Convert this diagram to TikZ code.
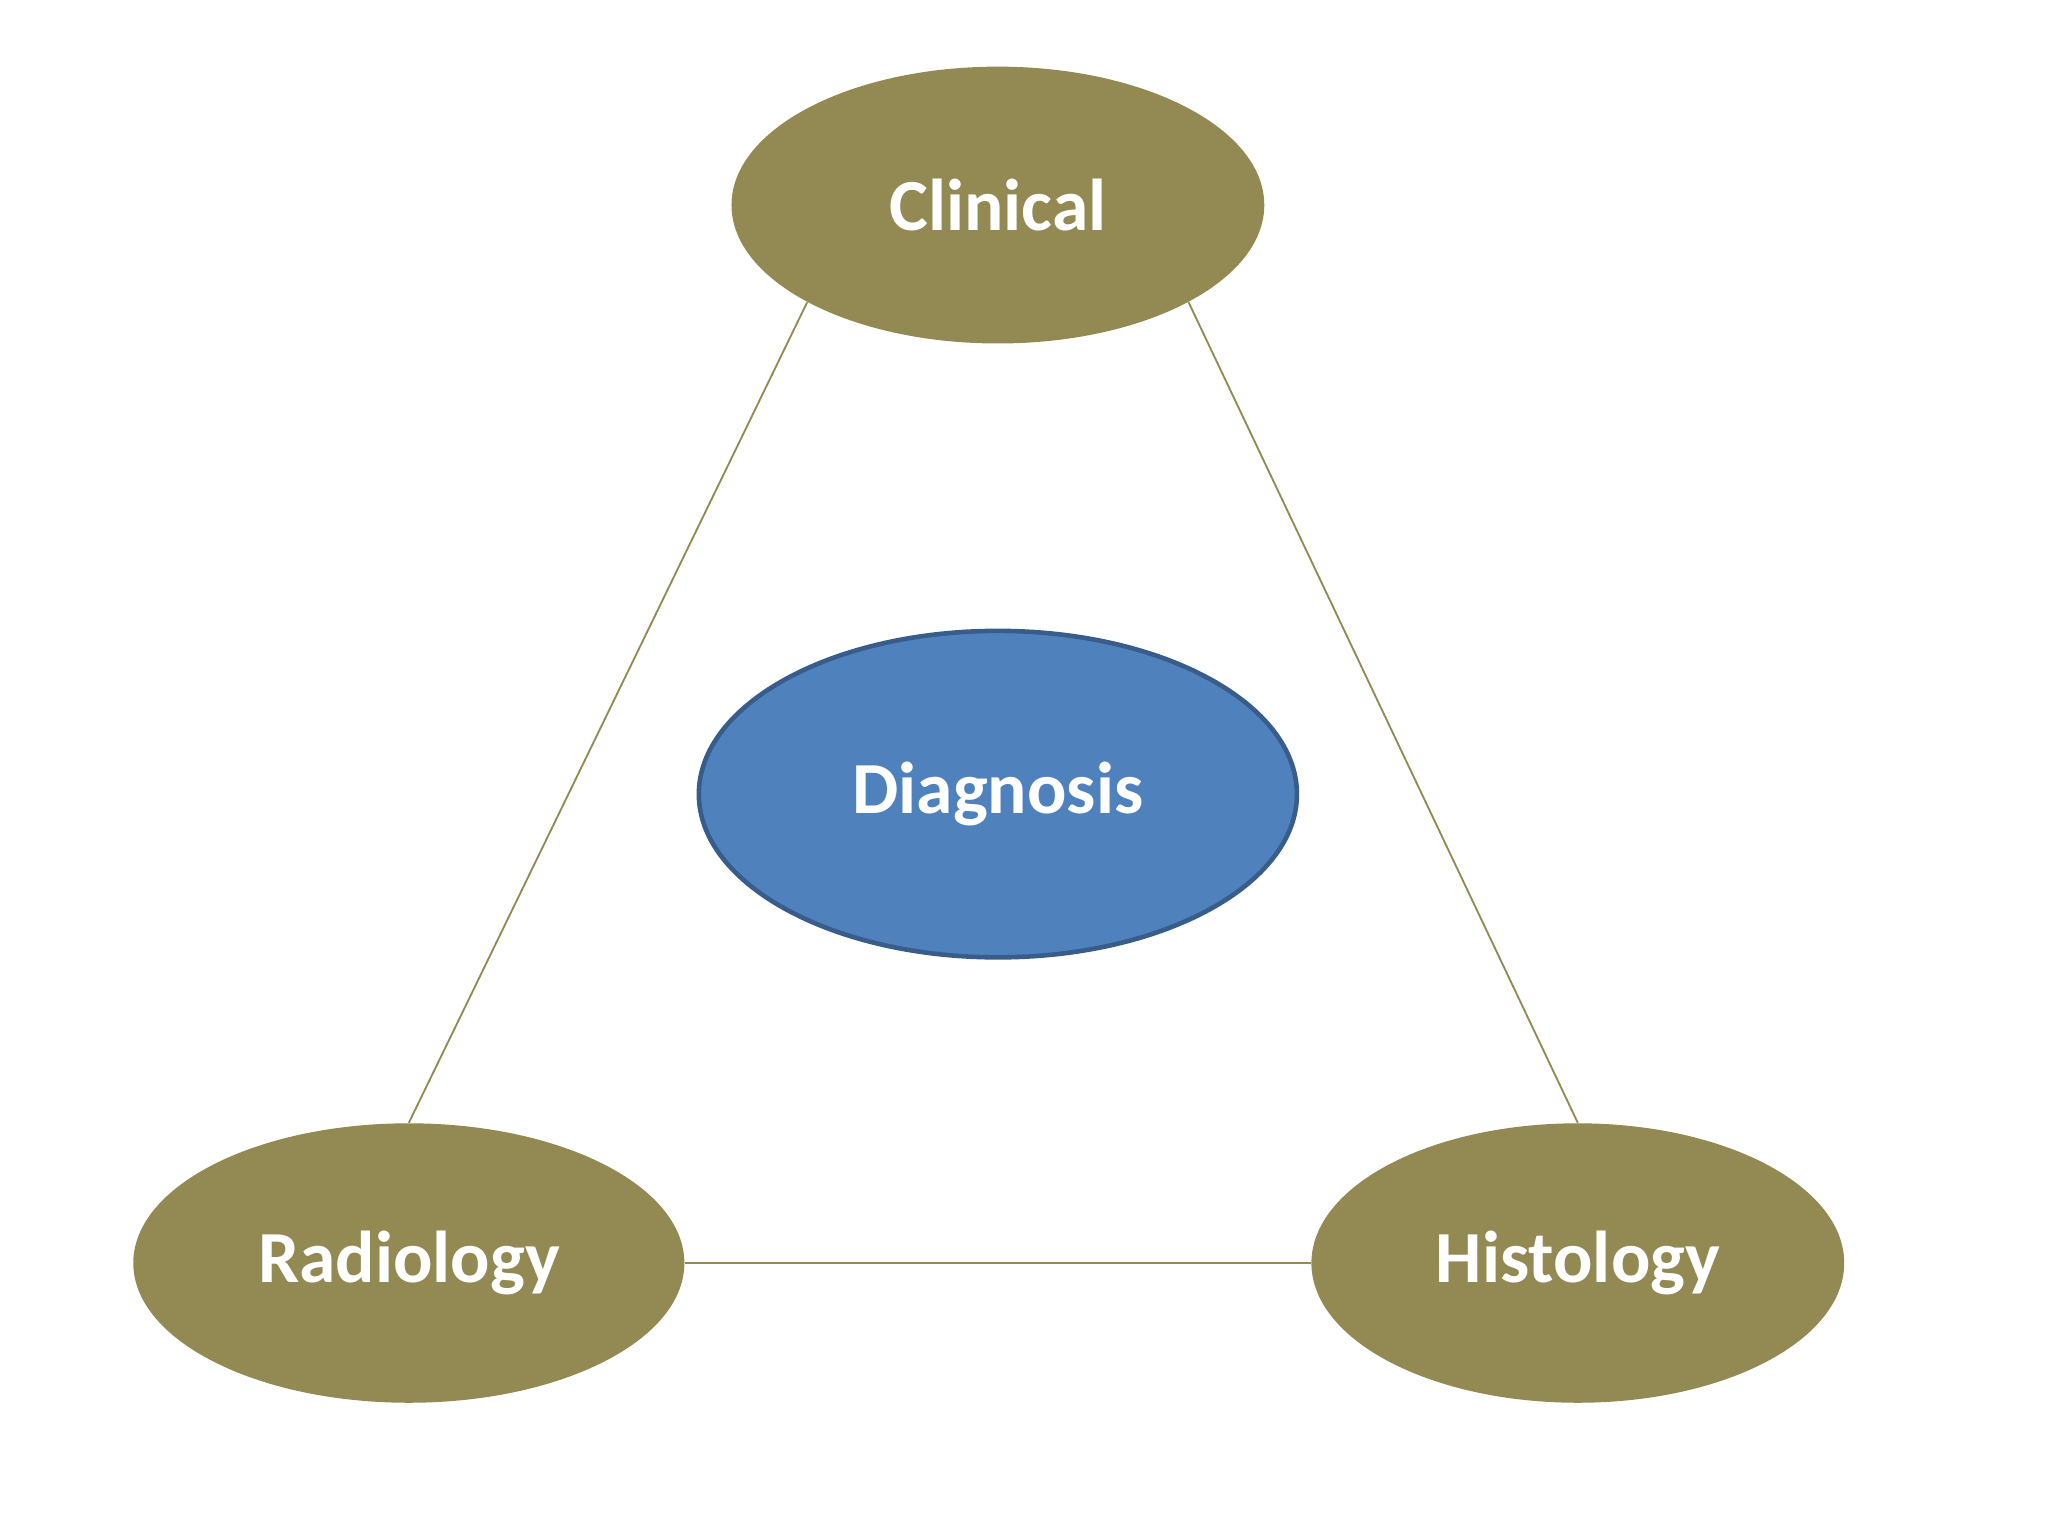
\documentclass[tikz,border=0pt]{standalone}
\usepackage{fontspec}
\setmainfont{Carlito}
\usetikzlibrary{shapes.geometric}
\definecolor{olive}{HTML}{938953}
\definecolor{dblue}{HTML}{4F81BD}
\definecolor{dbord}{HTML}{385D8A}
\begin{document}
\begin{tikzpicture}[x=0.02cm,y=-0.02cm,
  ov/.style={ellipse,fill=olive,inner sep=0pt,text=white,font=\fontsize{32}{36}\selectfont\bfseries},
  ln/.style={draw=olive,line width=0.8pt}]
\useasboundingbox (0,0) rectangle (1568,1176);
\node[ov,minimum width=408\pgflinewidth*0+8.16cm,minimum height=4.24cm] (C) at (764,157) {Clinical};
\node[ov,minimum width=8.44cm,minimum height=4.28cm] (R) at (313,967) {Radiology};
\node[ov,minimum width=8.16cm,minimum height=4.28cm] (H) at (1208,967) {Histology};
\node[ellipse,fill=dblue,draw=dbord,line width=2pt,minimum width=9.16cm,minimum height=5cm,text=white,font=\fontsize{32}{36}\selectfont\bfseries] (D) at (764,608) {Diagnosis};
\draw[ln] (C.207) -- (R.north);
\draw[ln] (C.333) -- (H.north);
\draw[ln] (R.east) -- (H.west);
\end{tikzpicture}
\end{document}
